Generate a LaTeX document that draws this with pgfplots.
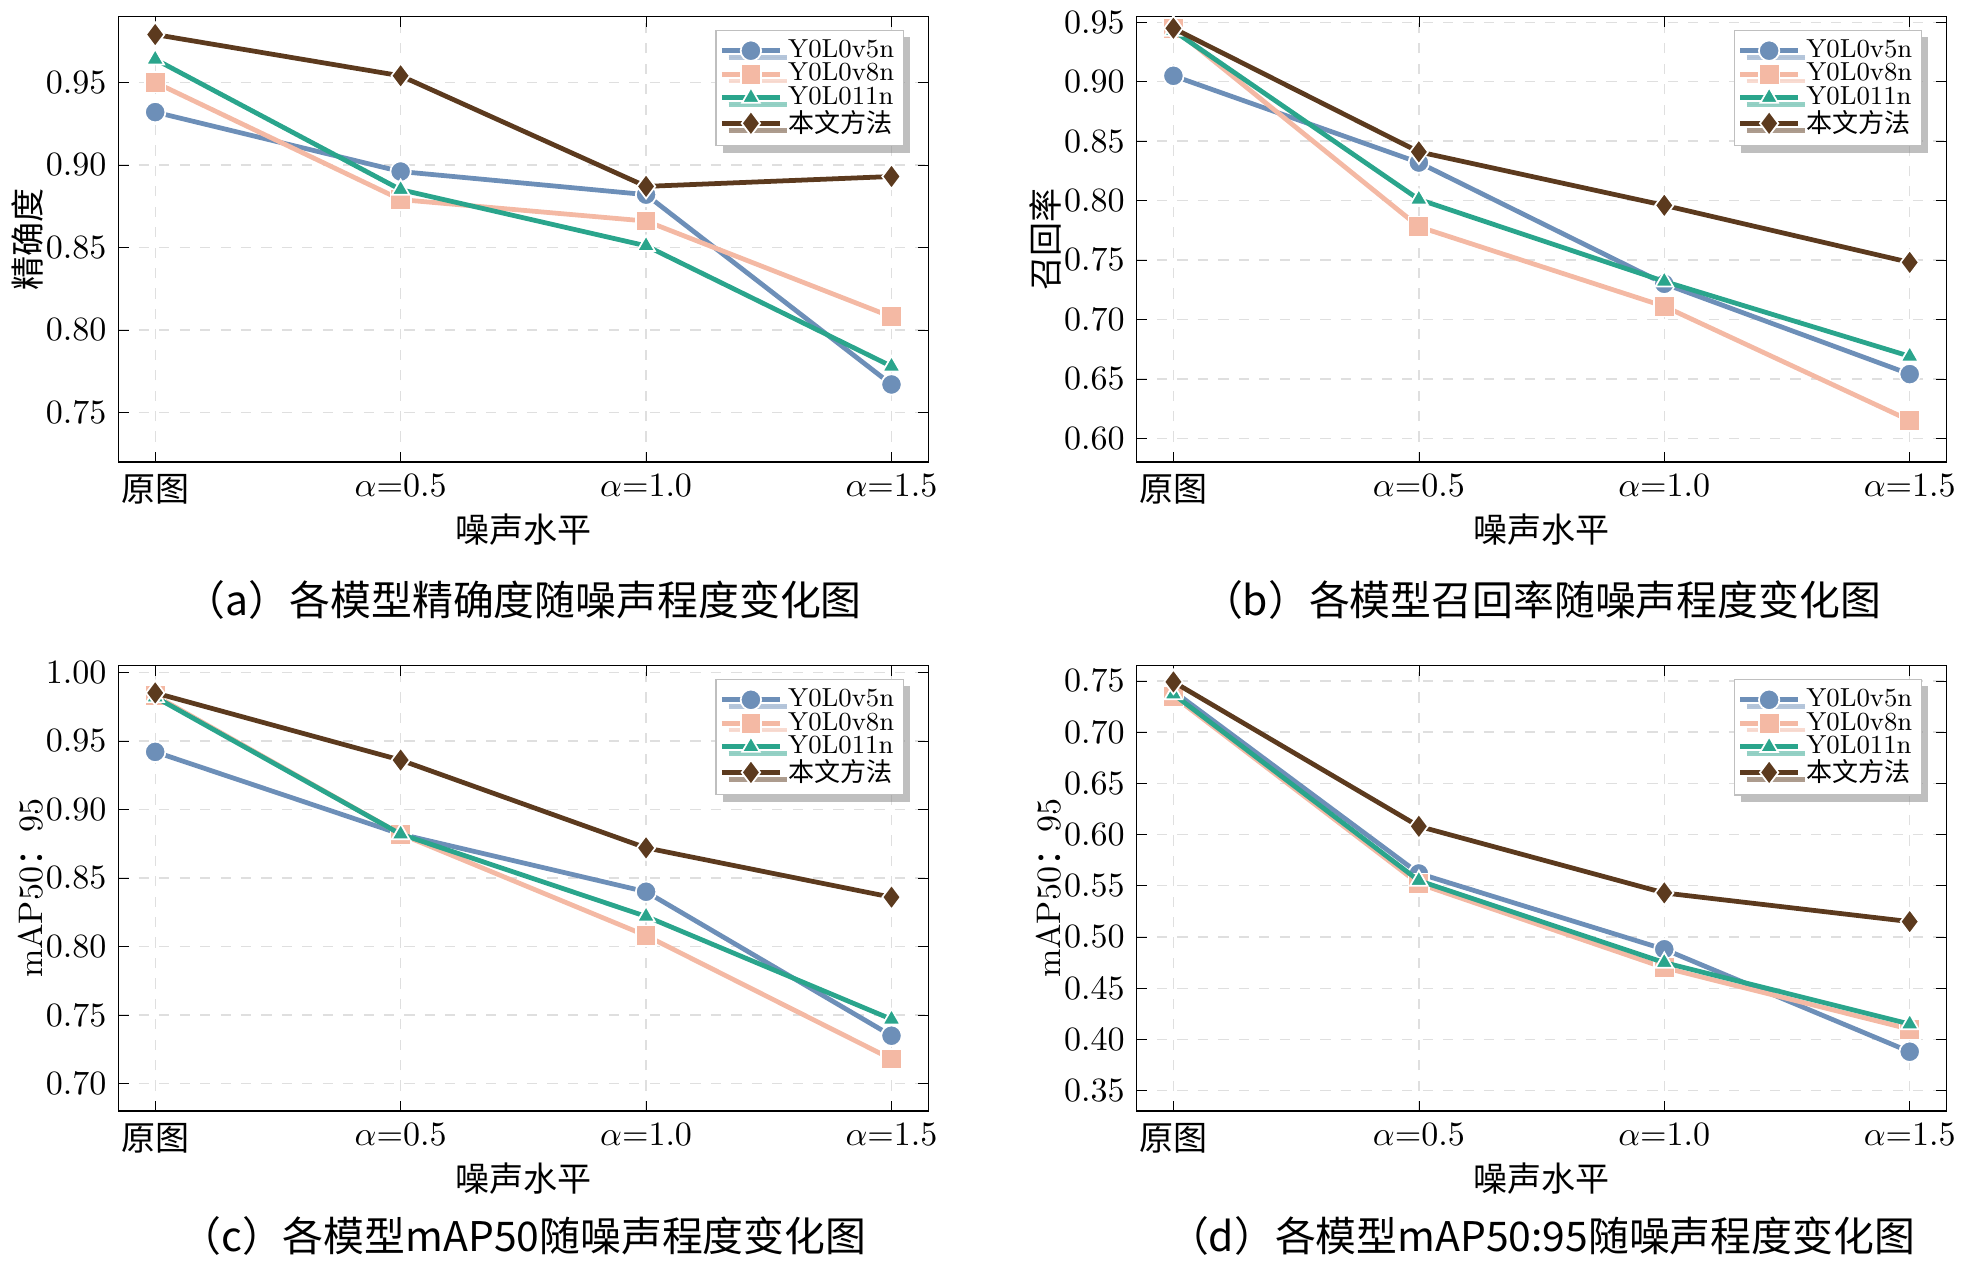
\documentclass[border=0pt]{standalone}
\usepackage{pgfplots}
\pgfplotsset{compat=1.18}
\usepgfplotslibrary{groupplots}
\usetikzlibrary{shadows}
\usepackage{fontspec}
\newfontfamily\cjk{Noto Sans CJK SC}
\definecolor{cA}{HTML}{6D8FB8}
\definecolor{cB}{HTML}{F4B9A4}
\definecolor{cC}{HTML}{2AA58C}
\definecolor{cD}{HTML}{5C3A1E}
\pgfplotsset{
  ser/.style={color=#1, line width=1.4pt, mark options={fill=#1, draw=white, line width=0.5pt}},
}
\begin{document}
\begin{tikzpicture}
\begin{groupplot}[
  group style={group size=2 by 2, horizontal sep=2.15cm, vertical sep=2.1cm},
  width=8.36cm, height=4.6cm, scale only axis, clip mode=individual,
  xmin=-0.15, xmax=3.15, xtick={0,1,2,3},
  xticklabels={{\cjk 原图},{$\alpha$=0.5},{$\alpha$=1.0},{$\alpha$=1.5}},
  xlabel={\cjk 噪声水平}, xlabel style={yshift=4pt},
  grid=major, grid style={dashed, gray!25},
  tick style={black}, major tick length=3pt,
  yticklabel style={/pgf/number format/fixed, /pgf/number format/fixed zerofill, /pgf/number format/precision=2},
  legend pos=north east,
  legend style={font=\small, nodes={scale=0.85, transform shape}, draw=gray!50, fill=white, drop shadow={shadow xshift=2pt, shadow yshift=-2pt}, row sep=-3pt, inner sep=1pt},
  legend cell align=left,
  every axis plot/.append style={mark size=3pt},
  label style={font=\normalsize}, tick label style={font=\normalsize},
]
\nextgroupplot[ymin=0.72, ymax=0.99, ytick={0.75,0.8,...,0.96}, ylabel={\cjk 精确度}, ylabel style={yshift=-6pt}]
\addplot[ser=cA, mark=*] coordinates {(0,0.932)(1,0.896)(2,0.882)(3,0.767)};
\addplot[ser=cB, mark=square*] coordinates {(0,0.950)(1,0.879)(2,0.866)(3,0.808)};
\addplot[ser=cC, mark=triangle*] coordinates {(0,0.964)(1,0.885)(2,0.851)(3,0.778)};
\addplot[ser=cD, mark=diamond*, mark size=3.6pt] coordinates {(0,0.979)(1,0.954)(2,0.887)(3,0.893)};
\legend{Y0L0v5n,Y0L0v8n,Y0L011n,{\cjk 本文方法}}
\node[font=\large] at (rel axis cs:0.5,-0.31) {\cjk （a）各模型精确度随噪声程度变化图};
\nextgroupplot[ymin=0.58, ymax=0.955, ytick={0.6,0.65,...,0.96}, ylabel={\cjk 召回率}, ylabel style={yshift=-6pt}]
\addplot[ser=cA, mark=*] coordinates {(0,0.905)(1,0.832)(2,0.730)(3,0.654)};
\addplot[ser=cB, mark=square*] coordinates {(0,0.945)(1,0.778)(2,0.711)(3,0.615)};
\addplot[ser=cC, mark=triangle*] coordinates {(0,0.943)(1,0.801)(2,0.732)(3,0.669)};
\addplot[ser=cD, mark=diamond*, mark size=3.6pt] coordinates {(0,0.945)(1,0.841)(2,0.796)(3,0.748)};
\legend{Y0L0v5n,Y0L0v8n,Y0L011n,{\cjk 本文方法}}
\node[font=\large] at (rel axis cs:0.5,-0.31) {\cjk （b）各模型召回率随噪声程度变化图};
\nextgroupplot[ymin=0.68, ymax=1.005, ytick={0.7,0.75,...,1.01}, ylabel={mAP50{\cjk ：}95}, ylabel style={yshift=-6pt}]
\addplot[ser=cA, mark=*] coordinates {(0,0.942)(1,0.882)(2,0.840)(3,0.735)};
\addplot[ser=cB, mark=square*] coordinates {(0,0.983)(1,0.882)(2,0.808)(3,0.718)};
\addplot[ser=cC, mark=triangle*] coordinates {(0,0.982)(1,0.882)(2,0.822)(3,0.747)};
\addplot[ser=cD, mark=diamond*, mark size=3.6pt] coordinates {(0,0.985)(1,0.936)(2,0.872)(3,0.836)};
\legend{Y0L0v5n,Y0L0v8n,Y0L011n,{\cjk 本文方法}}
\node[font=\large] at (rel axis cs:0.5,-0.28) {\cjk （c）各模型mAP50随噪声程度变化图};
\nextgroupplot[ymin=0.33, ymax=0.765, ytick={0.35,0.4,...,0.76}, ylabel={mAP50{\cjk ：}95}, ylabel style={yshift=-6pt}]
\addplot[ser=cA, mark=*] coordinates {(0,0.740)(1,0.562)(2,0.488)(3,0.388)};
\addplot[ser=cB, mark=square*] coordinates {(0,0.735)(1,0.552)(2,0.470)(3,0.410)};
\addplot[ser=cC, mark=triangle*] coordinates {(0,0.737)(1,0.555)(2,0.475)(3,0.415)};
\addplot[ser=cD, mark=diamond*, mark size=3.6pt] coordinates {(0,0.749)(1,0.608)(2,0.543)(3,0.515)};
\legend{Y0L0v5n,Y0L0v8n,Y0L011n,{\cjk 本文方法}}
\node[font=\large] at (rel axis cs:0.5,-0.28) {\cjk （d）各模型mAP50:95随噪声程度变化图};
\end{groupplot}
\end{tikzpicture}
\end{document}
